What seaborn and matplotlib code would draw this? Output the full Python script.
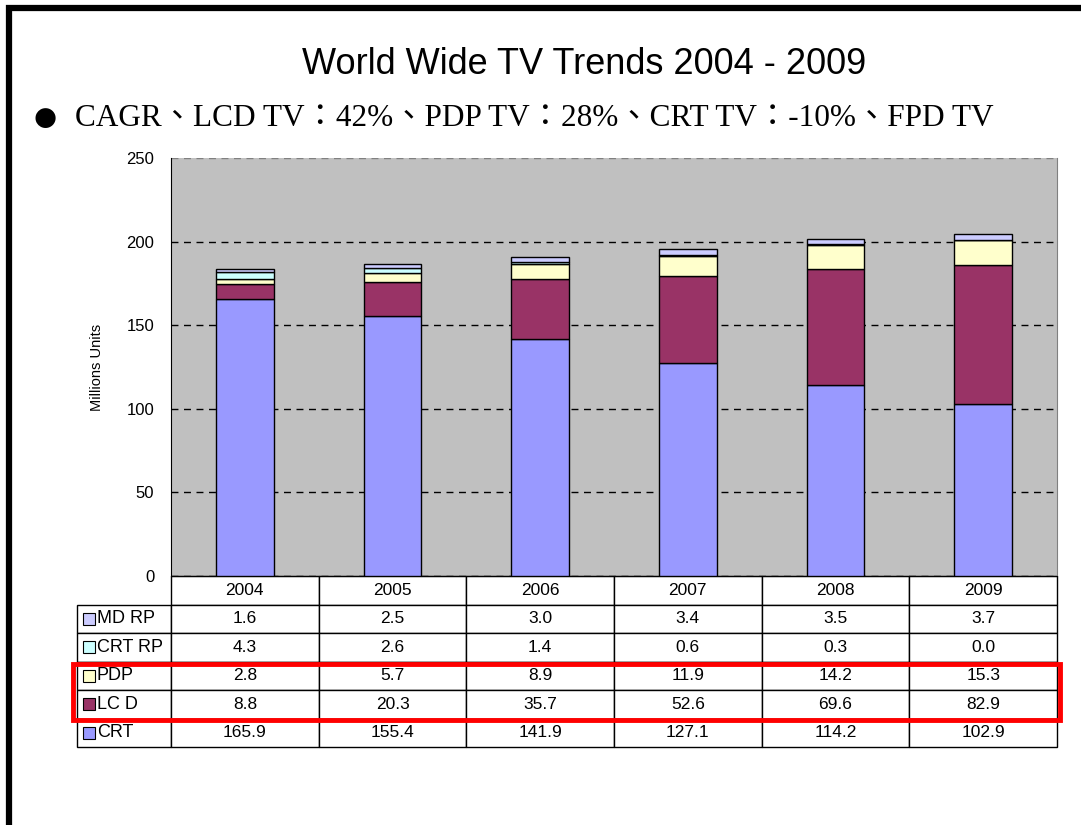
import numpy as np
import pandas as pd
import matplotlib
matplotlib.use('Agg')
import matplotlib.pyplot as plt
from matplotlib.patches import Rectangle
import seaborn as sns

# data
years = ['2004', '2005', '2006', '2007', '2008', '2009']
crt = [165.9, 155.4, 141.9, 127.1, 114.2, 102.9]
lcd = [8.8, 20.3, 35.7, 52.6, 69.6, 82.9]
pdp = [2.8, 5.7, 8.9, 11.9, 14.2, 15.3]
crt_rp = [4.3, 2.6, 1.4, 0.6, 0.3, 0.0]
md_rp = [1.6, 2.5, 3.0, 3.4, 3.5, 3.7]

series_names = ['CRT', 'LCD', 'PDP', 'CRT RP', 'MD RP']
series_vals = [crt, lcd, pdp, crt_rp, md_rp]
series_colors = ['#9999FF', '#993366', '#FFFFCC', '#CCFFFF', '#CCCCFF']
table_labels = ['MD RP', 'CRT RP', 'PDP', 'LC D', 'CRT']

sns.set_style('white')
plt.rcParams['font.family'] = ['Liberation Sans', 'DejaVu Sans']
plt.rcParams['text.color'] = 'black'
plt.rcParams['axes.labelcolor'] = 'black'
plt.rcParams['ytick.color'] = 'black'
plt.rcParams['xtick.color'] = 'black'

fig = plt.figure(figsize=(10.81, 8.25), dpi=100)
ax = fig.add_axes([171 / 1081, 1 - 576 / 825, 886 / 1081, 418 / 825])
ax.set_facecolor('#C0C0C0')

df = pd.DataFrame({'year': years})
bottom = np.zeros(len(years))
for name, vals, col in zip(series_names, series_vals, series_colors):
    sns.barplot(x=df['year'], y=vals, bottom=bottom, color=col, width=0.39,
                saturation=1, edgecolor='black', linewidth=1, ax=ax, zorder=3)
    bottom = bottom + np.array(vals)

ax.set_ylim(0, 250)
ax.set_xlim(-0.5, 5.5)
ax.set_yticks(range(0, 251, 50))
ax.tick_params(axis='y', labelsize=12, direction='in', length=5, pad=12, width=1)
ax.set_xticks([])
ax.set_xlabel('')
ax.set_ylabel('Millions Units', fontsize=10.5, labelpad=16)
ax.yaxis.grid(True, color='black', linestyle=(0, (5, 4)), linewidth=1)
ax.get_ygridlines()[-1].set_color('#808080')
ax.set_axisbelow(True)
for s in ['left', 'bottom']:
    ax.spines[s].set_color('black')
ax.spines['right'].set_color('#808080')
ax.spines['top'].set_visible(False)

# data table under the chart
cell_text = []
rev = list(zip(series_names, series_vals))[::-1]
for lab, (name, vals) in zip(table_labels, rev):
    cell_text.append([lab] + ['%.1f' % v for v in vals])
col_w = [94 / 980] + [886 / 6 / 980] * 6
tab = ax.table(cellText=cell_text, colLabels=[''] + years, colWidths=col_w,
               cellLoc='center', bbox=[-94 / 886, -171 / 418, 980 / 886, 171 / 418])
tab.auto_set_font_size(False)
tab.set_fontsize(12.5)
for (r, c), cell in tab.get_celld().items():
    cell.set_edgecolor('black')
    cell.set_linewidth(1)
    cell.get_text().set_color('black')
    if r == 0 and c == 0:
        cell.visible_edges = ''
    if c == 0 and r > 0:
        cell.PAD = 0.21
        cell._loc = 'left'
        cell.get_text().set_horizontalalignment('left')
        cell.get_text().set_fontsize(13)

# legend keys in the table rows
row_h = 171 / 6
rev_colors = series_colors[::-1]
for i, col in enumerate(rev_colors):
    cy = 576 + row_h * (i + 1.5)
    fig.patches.append(Rectangle((83 / 1081, 1 - (cy + 6) / 825), 12 / 1081, 12 / 825,
                                 facecolor=col, edgecolor='black', linewidth=0.8,
                                 transform=fig.transFigure, figure=fig))

# red highlight box around PDP and LCD rows
fig.patches.append(Rectangle((73 / 1081, 1 - 720 / 825), 987 / 1081, 56 / 825,
                             fill=False, edgecolor='red', linewidth=3.5,
                             transform=fig.transFigure, figure=fig, zorder=10))

# slide frame
fig.patches.append(Rectangle((8.5 / 1081, -0.1), 1.2, 1 - 8 / 825 + 0.1, fill=False,
                             edgecolor='black', linewidth=4.5,
                             transform=fig.transFigure, figure=fig))

fig.text(584 / 1081, 1 - 64 / 825, 'World Wide TV Trends 2004 - 2009', fontsize=26,
         ha='center', va='center', family=['Liberation Sans'])
fig.text(45 / 1081, 1 - 118 / 825, '\u25cf', fontsize=19, ha='center', va='center',
         family=['DejaVu Sans'])
fig.text(75 / 1081, 1 - 118 / 825,
         'CAGR\u3001LCD TV\uff1a42%\u3001PDP TV\uff1a28%\u3001CRT TV\uff1a-10%\u3001FPD TV',
         fontsize=22.5, ha='left', va='center',
         family=['Liberation Serif', 'Noto Sans CJK TC'])

fig.savefig('out.png', dpi=100)
